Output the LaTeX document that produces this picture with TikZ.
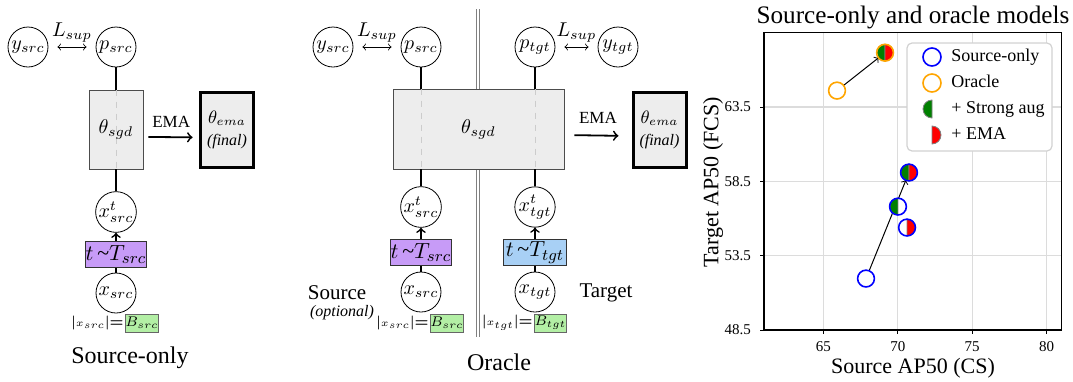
\documentclass[tikz,border=0pt]{standalone}
\usepackage{fontspec}
\newfontfamily\tnr{Liberation Serif}
\newcommand\capfont{\tnr\fontsize{12}{14}\selectfont}
\newcommand\sidefont{\tnr\fontsize{10.5}{12}\selectfont}
\newcommand\emafont{\tnr\fontsize{8.5}{10}\selectfont}
\newcommand\tickfont{\tnr\fontsize{7.5}{9}\selectfont}
\newcommand\legfont{\tnr\fontsize{9}{11}\selectfont}
\definecolor{netgray}{HTML}{EDEDED}
\definecolor{augpurple}{HTML}{C79BF7}
\definecolor{augblue}{HTML}{A8D0F5}
\definecolor{bgreen}{HTML}{B3EFA5}
\definecolor{mgreen}{HTML}{008000}
\definecolor{morange}{HTML}{FFA500}
\definecolor{gridgray}{HTML}{DCDCDC}
\begin{document}
\begin{tikzpicture}[x=0.5pt,y=-0.5pt,
  var/.style={draw,circle,minimum size=20pt,inner sep=0pt},
  net/.style={draw=black!70,fill=netgray,inner sep=0pt},
  emabox/.style={draw,line width=1.5pt,fill=netgray,inner sep=0pt,align=center,minimum width=26.5pt,minimum height=37.5pt},
  aug/.style={draw=black!80,inner sep=0pt,minimum height=13pt,font=\fontsize{11}{13}\selectfont},
  bsz/.style={draw=black!60,fill=bgreen,inner sep=0pt,minimum width=16pt,minimum height=9pt,font=\scriptsize},
  nsz/.style={inner sep=0.5pt,font=\scriptsize},
  caption/.style={font=\capfont},
  side/.style={font=\sidefont},
  link/.style={line width=1pt},
  sup/.style={<->,shorten <=4.5pt,shorten >=4.5pt},
  emaarr/.style={->,line width=0.9pt},
  emalab/.style={font=\emafont},
  split/.style={dashed,gray!40,line width=0.5pt},
  tk/.style={font=\tickfont},
  lg/.style={font=\legfont,anchor=west,inner sep=0pt,text height=6.2pt,text depth=1.8pt},
  half/.style={draw=gray,line width=0.4pt}]
\useasboundingbox (0,0) rectangle (1073,381);

\node[var] (y1) at (28,47) {$y_{src}$};
\node[var] (p1) at (116,47) {$p_{src}$};
\node[net,minimum width=27pt,minimum height=39.5pt] (g1) at (116,129.5) {};
\draw[split] (g1.north) -- (g1.south);
\node (th1) at (g1) {$\theta_{sgd}$};
\node[emabox] (e1) at (227,130) {\small$\theta_{ema}$\\[-1pt]\tnr\footnotesize\itshape(final)};
\node[var] (a1) at (116,212) {$x^t_{src}$};
\node[aug,fill=augpurple,minimum width=30pt] (au1) at (116,254.5) {$t$\,{\tnr\textasciitilde}$T_{src}$};
\node[var] (x1) at (116,293) {$x_{src}$};
\node[nsz,anchor=east] (n1) at (125,323) {{\bfseries|}{\tiny$x_{src}$}{\bfseries|=}};
\node[bsz,anchor=west] (b1) at (n1.east) {$B_{src}$};
\node[caption] (c1) at (130,358) {Source-only};
\draw[sup] (y1) -- node[above,inner sep=2pt] (l1) {$L_{sup}$} (p1);
\draw[link] (p1) -- (g1);
\draw[link] (g1) -- (a1);
\draw[->,line width=0.8pt] (au1) -- (a1);
\draw[line width=0.6pt] (x1) -- (au1);
\draw[emaarr,shorten <=2.5pt,shorten >=3.2pt] ([yshift=-3.7pt]g1.east) -- node[above=1pt,emalab] (m1) {EMA} ([yshift=-3.7pt]e1.west);

\draw[gray,double,line width=0.4pt,double distance=1pt] (478,9) -- (478,337);
\node[var] (y2) at (333,47) {$y_{src}$};
\node[var] (p2) at (421,47) {$p_{src}$};
\node[var] (p3) at (535,47) {$p_{tgt}$};
\node[var] (y3) at (618,47) {$y_{tgt}$};
\node[net,minimum width=85.5pt,minimum height=40pt] (g2) at (478.5,129) {};
\draw[split] (p2 |- g2.north) -- (p2 |- g2.south);
\draw[split] (p3 |- g2.north) -- (p3 |- g2.south);
\node (th2) at (g2) {$\theta_{sgd}$};
\node[emabox] (e2) at (659.5,130) {\small$\theta_{ema}$\\[-1pt]\tnr\footnotesize\itshape(final)};
\node[var] (a2) at (421,207) {$x^t_{src}$};
\node[var] (a3) at (535,207) {$x^t_{tgt}$};
\node[aug,fill=augpurple,minimum width=30pt] (au2) at (421,252.5) {$t$\,{\tnr\textasciitilde}$T_{src}$};
\node[aug,fill=augblue,minimum width=31.5pt] (au3) at (535,252.5) {$t$\,{\tnr\textasciitilde}$T_{tgt}$};
\node[var] (x2) at (421,292) {$x_{src}$};
\node[var] (x3) at (535,292) {$x_{tgt}$};
\node[nsz,anchor=east] (n2) at (430,323) {{\bfseries|}{\tiny$x_{src}$}{\bfseries|=}};
\node[bsz,anchor=west] (b2) at (n2.east) {$B_{src}$};
\node[nsz,anchor=east] (n3) at (534,323) {{\bfseries|}{\tiny$x_{tgt}$}{\bfseries|=}};
\node[bsz,anchor=west] (b3) at (n3.east) {$B_{tgt}$};
\node[side] (s2) at (337,293) {Source};
\node[font=\tnr\footnotesize\itshape] (o2) at (342,313) {(optional)};
\node[side] (s3) at (606,293) {Target};
\node[caption] (c2) at (499,362) {Oracle};
\draw[sup] (y2) -- node[above,inner sep=2pt] (l2) {$L_{sup}$} (p2);
\draw[sup] (p3) -- node[above,inner sep=2pt] (l3) {$L_{sup}$} (y3);
\draw[link] (p2) -- (p2 |- g2.north);
\draw[link] (p3) -- (p3 |- g2.north);
\draw[link] (a2 |- g2.south) -- (a2);
\draw[link] (a3 |- g2.south) -- (a3);
\draw[->,line width=0.8pt] (au2) -- (a2);
\draw[->,line width=0.8pt] (au3) -- (a3);
\draw[line width=0.6pt] (x2) -- (au2);
\draw[line width=0.6pt] (x3) -- (au3);
\draw[emaarr,shorten <=5pt,shorten >=6.5pt] ([yshift=-3pt]g2.east) -- node[above=2pt,emalab] (m2) {EMA} ([yshift=-3pt]e2.west);

\node[font=\tnr\fontsize{12.6}{15}\selectfont] (pt) at (913,17) {Source-only and oracle models};
\node[font=\tnr\fontsize{11}{13}\selectfont] (px) at (913,368) {Source AP50 (CS)};
\node[font=\tnr\fontsize{11}{13}\selectfont,rotate=90] (py) at (713,182) {Target AP50 (FCS)};
\begin{scope}[xshift=382pt,yshift=-165pt,x=7.435pt,y=7.435pt,shift={(-61,-48.5)}]
\foreach \v in {65,70,75,80} {
  \draw[gridgray,line width=0.6pt] (\v,48.5) -- (\v,68.5);
  \draw (\v,48.5) -- ++(0,-2pt);
  \node[tk] (xt\v) at ([yshift=-8.5pt]\v,48.5) {\v};
}
\foreach \v [count=\i] in {48.5,53.5,58.5,63.5} {
  \draw[gridgray,line width=0.6pt] (61,\v) -- (81,\v);
  \draw (61,\v) -- ++(-2pt,0);
  \node[tk,anchor=east] (yt\i) at ([xshift=-3pt]61,\v) {\v};
}
\draw[line width=0.8pt] (61,48.5) rectangle (81,68.5);
\coordinate (so) at (67.86,51.96);
\coordinate (sa) at (70.01,56.8);
\coordinate (se) at (70.62,55.39);
\coordinate (sb) at (70.75,59.09);
\coordinate (or) at (65.91,64.6);
\coordinate (ob) at (69.14,67.15);
\end{scope}
\draw[->,line width=0.5pt,shorten <=4pt,shorten >=4pt] (so) -- (sb);
\draw[->,line width=0.5pt,shorten <=4pt,shorten >=4pt] (or) -- (ob);
\foreach \p in {so,sa,se,sb,or,ob} \fill[white] (\p) circle[radius=4.2pt];
\foreach \p in {sa,sb,ob} \filldraw[half,fill=mgreen] (\p) ++(90:4.2pt) arc[start angle=90,end angle=270,radius=4.2pt] -- cycle;
\foreach \p in {se,sb,ob} \filldraw[half,fill=red] (\p) ++(-90:4.2pt) arc[start angle=-90,end angle=90,radius=4.2pt] -- cycle;
\foreach \p in {so,sa,se,sb} \draw[blue,line width=0.8pt] (\p) circle[radius=4.2pt];
\foreach \p in {or,ob} \draw[morange,line width=0.8pt] (\p) circle[radius=4.2pt];

\draw[draw=gray!35,fill=white,rounded corners=2.5pt,line width=0.6pt] (907,43) rectangle (1052,151);
\coordinate (k1) at (932,57);
\coordinate (k2) at (932,83);
\coordinate (k3) at (932,109);
\coordinate (k4) at (932,135);
\draw[blue,line width=0.8pt] (k1) circle[radius=4.5pt];
\draw[morange,line width=0.8pt] (k2) circle[radius=4.5pt];
\filldraw[half,fill=mgreen] (k3) ++(90:4.5pt) arc[start angle=90,end angle=270,radius=4.5pt] -- cycle;
\filldraw[half,fill=red] (k4) ++(-90:4.5pt) arc[start angle=-90,end angle=90,radius=4.5pt] -- cycle;
\node[lg] (lt1) at (951,57) {Source-only};
\node[lg] (lt2) at (951,83) {Oracle};
\node[lg] (lt3) at (951,109) {+ Strong aug};
\node[lg] (lt4) at (951,135) {+ EMA};
\end{tikzpicture}
\end{document}
